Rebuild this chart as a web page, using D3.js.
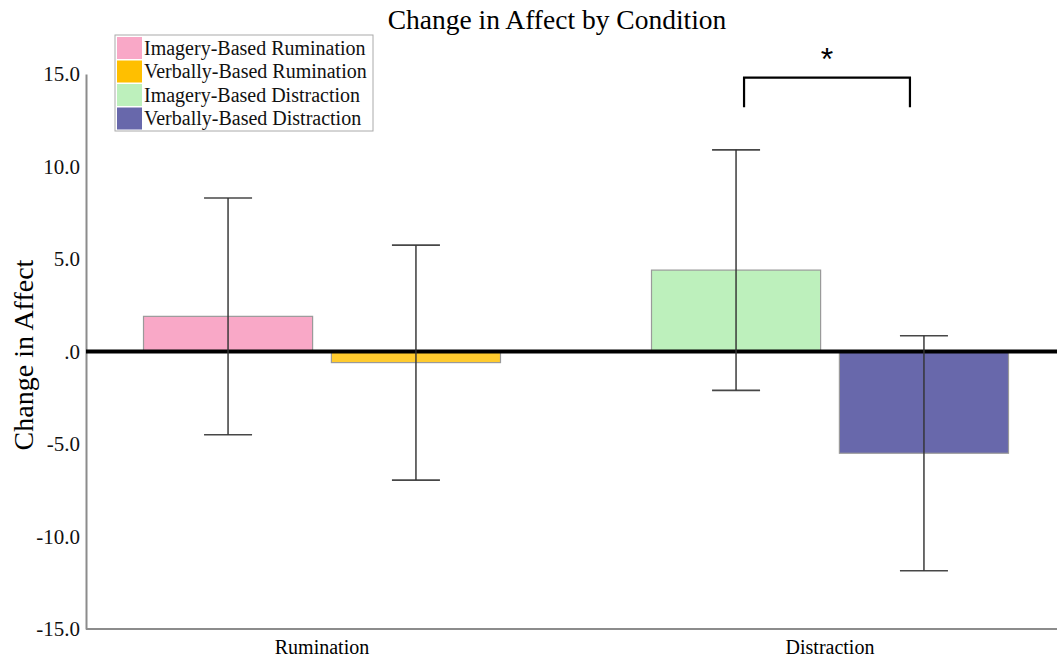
<!DOCTYPE html>
<html>
<head>
<meta charset="utf-8">
<script src="https://cdn.jsdelivr.net/npm/d3@7"></script>
<style>
  body { margin: 0; background: #fff; }
  text { font-family: "Liberation Serif", "DejaVu Serif", serif; }
</style>
</head>
<body>
<svg id="chart" width="1057" height="659"></svg>
<script>
// Condition groups and the series within them
const categories = ["Rumination", "Distraction"];
const seriesNames = [
  "Imagery-Based Rumination",
  "Verbally-Based Rumination",
  "Imagery-Based Distraction",
  "Verbally-Based Distraction"
];
const seriesGroup = ["Rumination", "Rumination", "Distraction", "Distraction"];
const seriesSlot = [0, 1, 0, 1];
const means = [1.9, -0.6, 4.4, -5.5];
const errorHalf = [6.4, 6.35, 6.5, 6.35];
const colors = ["#F9A8C7", "#FFCB2E", "#BDF0BC", "#6868AB"];
const yTicks = [15, 10, 5, 0, -5, -10, -15];

const svg = d3.select("#chart");

const y = d3.scaleLinear().domain([-15, 15]).range([629, 74]);
const x = d3.scalePoint().domain(categories).range([322, 830]);
const xSub = d3.scaleBand().domain([0, 1]).range([-178.5, 178.5]).paddingInner(0.1);

const axisLeft = 86, axisRight = 1057;

// Title
svg.append("text")
  .attr("x", 557).attr("y", 29)
  .attr("text-anchor", "middle")
  .attr("font-size", 27.5)
  .text("Change in Affect by Condition");

// Y axis title
svg.append("text")
  .attr("transform", "translate(33,355) rotate(-90)")
  .attr("text-anchor", "middle")
  .attr("font-size", 28)
  .text("Change in Affect");

// Y axis (plain hyphen for negatives, ".0" for zero)
const yAxis = d3.axisLeft(y)
  .tickValues(yTicks)
  .tickSize(0)
  .tickPadding(6)
  .tickFormat(d => d === 0 ? ".0" : d.toFixed(1));
const gy = svg.append("g").attr("transform", `translate(${axisLeft},0)`).call(yAxis);
gy.select(".domain").attr("stroke", "#8c8c8c").attr("stroke-width", 2);
gy.selectAll("text").attr("font-size", 21).attr("fill", "#111")
  .style("font-family", "'Liberation Serif', serif");

// X axis line and category labels
svg.append("line")
  .attr("x1", axisLeft).attr("x2", axisRight)
  .attr("y1", y(-15)).attr("y2", y(-15))
  .attr("stroke", "#8c8c8c").attr("stroke-width", 2);
svg.selectAll("text.cat").data(categories).join("text")
  .attr("class", "cat")
  .attr("x", d => x(d)).attr("y", 654)
  .attr("text-anchor", "middle")
  .attr("font-size", 20)
  .text(d => d);

// Bars
const rows = seriesNames.map((name, i) => ({
  name, mean: means[i], err: errorHalf[i], color: colors[i],
  cx: x(seriesGroup[i]) + xSub(seriesSlot[i])
}));

svg.selectAll("rect.bar").data(rows).join("rect")
  .attr("class", "bar")
  .attr("x", d => d.cx)
  .attr("width", xSub.bandwidth())
  .attr("y", d => y(Math.max(0, d.mean)))
  .attr("height", d => Math.abs(y(d.mean) - y(0)))
  .attr("fill", d => d.color)
  .attr("stroke", "#9a9a9a")
  .attr("stroke-width", 1.2);

// Zero reference line
svg.append("line")
  .attr("x1", axisLeft).attr("x2", axisRight)
  .attr("y1", y(0)).attr("y2", y(0))
  .attr("stroke", "#000").attr("stroke-width", 4);

// Error bars
const capHalf = 24;
const eb = svg.selectAll("g.err").data(rows).join("g").attr("class", "err")
  .attr("stroke", "#333").attr("stroke-width", 1.6).attr("stroke-opacity", 0.9);
eb.append("line")
  .attr("x1", d => d.cx + xSub.bandwidth() / 2).attr("x2", d => d.cx + xSub.bandwidth() / 2)
  .attr("y1", d => y(d.mean + d.err)).attr("y2", d => y(d.mean - d.err));
eb.append("line")
  .attr("x1", d => d.cx + xSub.bandwidth() / 2 - capHalf).attr("x2", d => d.cx + xSub.bandwidth() / 2 + capHalf)
  .attr("y1", d => y(d.mean + d.err)).attr("y2", d => y(d.mean + d.err));
eb.append("line")
  .attr("x1", d => d.cx + xSub.bandwidth() / 2 - capHalf).attr("x2", d => d.cx + xSub.bandwidth() / 2 + capHalf)
  .attr("y1", d => y(d.mean - d.err)).attr("y2", d => y(d.mean - d.err));

// Significance bracket between the two distraction bars
const bx1 = rows[2].cx + xSub.bandwidth() / 2 + 8;
const bx2 = rows[3].cx + xSub.bandwidth() / 2 - 14;
svg.append("path")
  .attr("d", `M${bx1},${y(13.2)}V${y(14.8)}H${bx2}V${y(13.2)}`)
  .attr("fill", "none").attr("stroke", "#000").attr("stroke-width", 2.2);
svg.append("text")
  .attr("x", (bx1 + bx2) / 2).attr("y", 70)
  .attr("text-anchor", "middle")
  .attr("font-size", 32)
  .style("font-family", "'Liberation Sans', Arial, sans-serif")
  .text("*");

// Legend
const lg = svg.append("g").attr("transform", "translate(115,35)");
lg.append("rect")
  .attr("width", 258).attr("height", 96)
  .attr("fill", "#fff").attr("stroke", "#aaa").attr("stroke-width", 1);
const items = lg.selectAll("g.item").data(rows).join("g").attr("class", "item")
  .attr("transform", (d, i) => `translate(2,${2 + i * 23.5})`);
items.append("rect")
  .attr("width", 25).attr("height", 22)
  .attr("fill", (d, i) => i === 1 ? "#FFBF00" : d.color);
items.append("text")
  .attr("x", 27).attr("y", 17.5)
  .attr("font-size", 20)
  .attr("fill", "#111")
  .text(d => d.name);
</script>
</body>
</html>
